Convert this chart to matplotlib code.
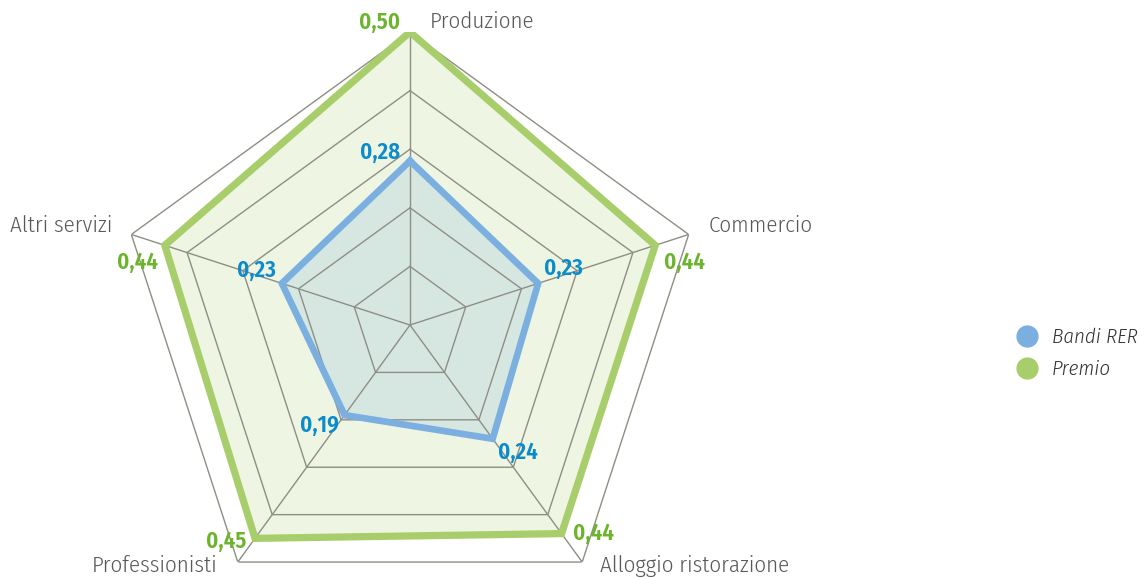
import numpy as np
import matplotlib
matplotlib.use("Agg")
import matplotlib.pyplot as plt
from matplotlib.lines import Line2D

categories = ["Produzione", "Commercio", "Alloggio ristorazione", "Professionisti", "Altri servizi"]
bandi_rer = [0.28, 0.23, 0.24, 0.19, 0.23]
premio = [0.50, 0.44, 0.44, 0.45, 0.44]
grid_levels = [0.1, 0.2, 0.3, 0.4, 0.5]
series_names = ["Bandi RER", "Premio"]

FONT = ["Fira Sans Condensed", "DejaVu Sans"]
plt.rcParams["font.family"] = FONT

BLUE = "#7aafe0"
BLUE_FILL = "#d6e7e2"
BLUE_TXT = "#0a8bcb"
GREEN = "#a8cd6b"
GREEN_FILL = "#eef5e3"
GREEN_TXT = "#6cb42c"
GRID = "#8e8e84"
LABEL = "#595959"

fig = plt.figure(figsize=(11.44, 5.78), dpi=100)
W, H = 1144, 578
cx, cy, R = 410, 325, 293
ax = fig.add_axes([(cx - R) / W, (H - cy - R) / H, 2 * R / W, 2 * R / H], projection="polar")
ax.set_theta_offset(np.pi / 2)
ax.set_theta_direction(-1)
ax.set_ylim(0, 0.5)
ax.axis("off")

n = len(categories)
theta = np.linspace(0, 2 * np.pi, n, endpoint=False)
tc = np.append(theta, theta[0])

def closed(v):
    return np.append(v, v[0])

# fills
ax.fill(tc, closed(premio), color=GREEN_FILL, zorder=1, lw=0)
ax.fill(tc, closed(bandi_rer), color=BLUE_FILL, zorder=2, lw=0)

# grid
for lvl in grid_levels:
    ax.plot(tc, [lvl] * (n + 1), color=GRID, lw=1.0, zorder=3)
for t in theta:
    ax.plot([t, t], [0, grid_levels[-1]], color=GRID, lw=1.0, zorder=3)

# series lines
ax.plot(tc, closed(premio), color=GREEN, lw=5.2, zorder=5, solid_joinstyle="miter")
ax.plot(tc, closed(bandi_rer), color=BLUE, lw=4.8, zorder=6, solid_joinstyle="miter")

def fmt(v):
    return f"{v:.2f}".replace(".", ",")

green_off = [(-30, 10), (29, -17), (32, 0), (-29, -3), (-27, -17)]
blue_off = [(-30, 9), (25, 15), (25, -14), (-25, -10), (-25, 13)]
for i in range(n):
    ax.annotate(fmt(premio[i]), (theta[i], premio[i]), xytext=green_off[i],
                textcoords="offset pixels", ha="center", va="center",
                color=GREEN_TXT, fontsize=16.5, fontweight=600, zorder=10)
    ax.annotate(fmt(bandi_rer[i]), (theta[i], bandi_rer[i]), xytext=blue_off[i],
                textcoords="offset pixels", ha="center", va="center",
                color=BLUE_TXT, fontsize=16.5, fontweight=600, zorder=10)

cat_off = [(20, 10, "left"), (20, 9, "left"), (18, -4, "left"), (-20, -4, "right"), (-19, 9, "right")]
for i in range(n):
    dx, dy, ha = cat_off[i]
    ax.annotate(categories[i], (theta[i], grid_levels[-1]), xytext=(dx, dy),
                textcoords="offset pixels", ha=ha, va="center",
                color=LABEL, fontsize=16.5, fontweight=300, zorder=10,
                annotation_clip=False)

handles = [Line2D([], [], marker="o", ls="", markersize=15, color=c) for c in (BLUE, GREEN)]
leg = fig.legend(handles, series_names, loc="center left",
                 bbox_to_anchor=(1014 / W, 1 - 353.5 / H), frameon=False,
                 prop={"family": FONT, "style": "italic", "weight": 300, "size": 15},
                 handletextpad=0.6, labelspacing=0.6, handlelength=1.2,
                 borderpad=0, borderaxespad=0)
for t in leg.get_texts():
    t.set_color("#333333")

fig.savefig("out.png", dpi=100)
